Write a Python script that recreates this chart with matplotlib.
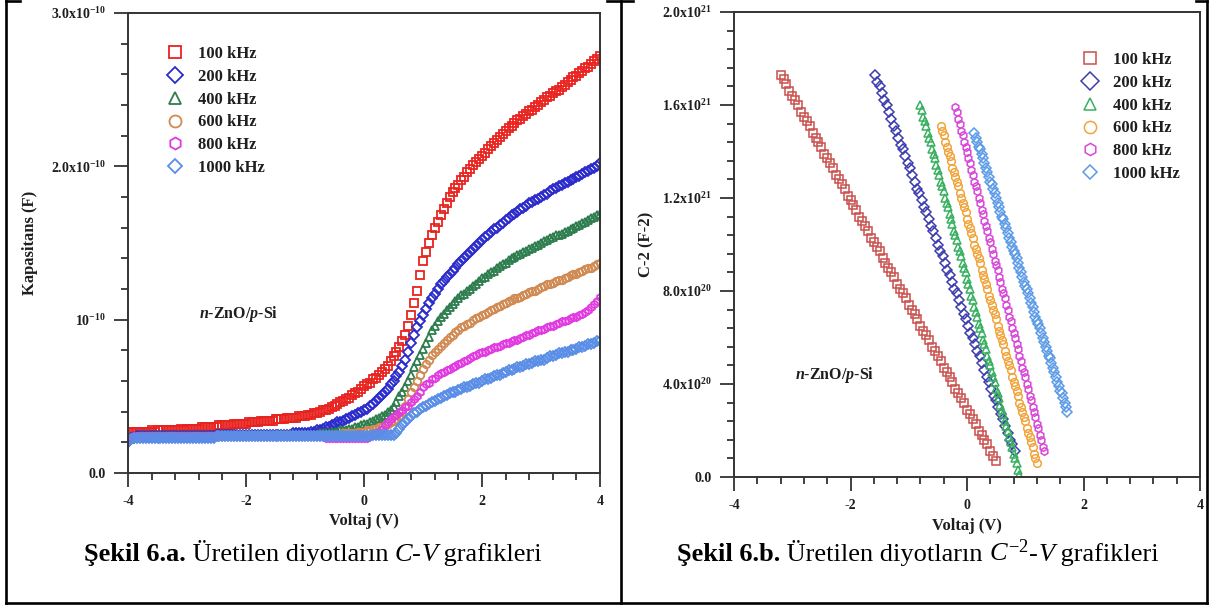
import numpy as np
import matplotlib
matplotlib.use('Agg')
import matplotlib.pyplot as plt
from matplotlib.ticker import MultipleLocator
from matplotlib.lines import Line2D
from matplotlib.offsetbox import TextArea, HPacker, AnnotationBbox

plt.rcParams['font.family'] = 'Liberation Serif'
plt.rcParams['mathtext.fontset'] = 'custom'
plt.rcParams['mathtext.rm'] = 'Liberation Serif'
plt.rcParams['mathtext.it'] = 'Liberation Serif:italic'
plt.rcParams['mathtext.bf'] = 'Liberation Serif:bold'
plt.rcParams['mathtext.bfit'] = 'Liberation Serif:italic:bold'

# ---- C-V data (capacitance in 1e-10 F), voltage sweep -4..4 V, 0.05 V steps
V_SWEEP = np.round(np.arange(-4, 4.0001, 0.05), 2)

C_100 = [0.27, 0.27, 0.27, 0.27, 0.27, 0.27, 0.27, 0.27, 0.28, 0.27, 0.28, 0.28, 0.28, 0.28, 0.28, 0.28, 0.28, 0.28, 0.29, 0.28,
         0.29, 0.29, 0.29, 0.29, 0.29, 0.30, 0.30, 0.30, 0.30, 0.30, 0.30, 0.31, 0.31, 0.31, 0.31, 0.31, 0.32, 0.32, 0.32, 0.32,
         0.32, 0.33, 0.33, 0.33, 0.33, 0.34, 0.34, 0.34, 0.34, 0.34, 0.35, 0.35, 0.35, 0.35, 0.36, 0.36, 0.36, 0.36, 0.37, 0.37,
         0.37, 0.38, 0.38, 0.39, 0.39, 0.40, 0.41, 0.41, 0.42, 0.43, 0.44, 0.45, 0.46, 0.47, 0.48, 0.49, 0.51, 0.52, 0.53, 0.55,
         0.57, 0.58, 0.59, 0.61, 0.62, 0.64, 0.66, 0.68, 0.70, 0.73, 0.76, 0.79, 0.82, 0.86, 0.90, 0.96, 1.03, 1.11, 1.19, 1.29,
         1.38, 1.44, 1.50, 1.55, 1.60, 1.64, 1.68, 1.72, 1.76, 1.80, 1.83, 1.86, 1.88, 1.91, 1.93, 1.96, 1.98, 2.01, 2.03, 2.05,
         2.07, 2.09, 2.11, 2.13, 2.15, 2.17, 2.19, 2.21, 2.23, 2.25, 2.26, 2.28, 2.30, 2.31, 2.33, 2.34, 2.36, 2.37, 2.39, 2.40,
         2.42, 2.43, 2.45, 2.46, 2.48, 2.49, 2.50, 2.52, 2.53, 2.55, 2.56, 2.58, 2.59, 2.61, 2.62, 2.64, 2.65, 2.67, 2.69, 2.70, 2.72]

C_200 = [0.20, 0.23, 0.23, 0.24, 0.24, 0.24, 0.24, 0.24, 0.24, 0.24, 0.24, 0.24, 0.24, 0.24, 0.24, 0.24, 0.24, 0.24, 0.24, 0.24,
         0.24, 0.24, 0.24, 0.24, 0.24, 0.24, 0.24, 0.24, 0.24, 0.24, 0.25, 0.25, 0.25, 0.25, 0.25, 0.25, 0.25, 0.25, 0.25, 0.25,
         0.25, 0.25, 0.25, 0.25, 0.25, 0.25, 0.25, 0.25, 0.25, 0.25, 0.25, 0.25, 0.25, 0.25, 0.25, 0.25, 0.26, 0.26, 0.26, 0.26,
         0.26, 0.26, 0.27, 0.27, 0.28, 0.28, 0.29, 0.30, 0.30, 0.31, 0.32, 0.33, 0.33, 0.34, 0.35, 0.36, 0.37, 0.38, 0.39, 0.40,
         0.41, 0.42, 0.44, 0.45, 0.47, 0.49, 0.51, 0.53, 0.55, 0.58, 0.60, 0.63, 0.66, 0.70, 0.74, 0.79, 0.85, 0.90, 0.95, 0.99,
         1.03, 1.07, 1.11, 1.14, 1.17, 1.20, 1.23, 1.25, 1.28, 1.30, 1.32, 1.34, 1.36, 1.38, 1.40, 1.42, 1.44, 1.46, 1.48, 1.50,
         1.52, 1.54, 1.55, 1.57, 1.59, 1.60, 1.62, 1.63, 1.65, 1.66, 1.68, 1.69, 1.70, 1.72, 1.73, 1.74, 1.76, 1.77, 1.78, 1.79,
         1.80, 1.81, 1.82, 1.84, 1.85, 1.86, 1.87, 1.88, 1.89, 1.90, 1.91, 1.92, 1.93, 1.94, 1.95, 1.96, 1.97, 1.98, 1.99, 2.00, 2.02]

C_400 = [0.22, 0.23, 0.23, 0.23, 0.24, 0.24, 0.24, 0.24, 0.24, 0.24, 0.24, 0.24, 0.24, 0.24, 0.24, 0.24, 0.24, 0.24, 0.24, 0.24,
         0.24, 0.24, 0.24, 0.24, 0.24, 0.24, 0.24, 0.24, 0.24, 0.24, 0.24, 0.24, 0.25, 0.24, 0.24, 0.25, 0.25, 0.25, 0.25, 0.25,
         0.25, 0.25, 0.25, 0.25, 0.25, 0.25, 0.25, 0.25, 0.25, 0.25, 0.25, 0.25, 0.25, 0.25, 0.25, 0.25, 0.25, 0.25, 0.25, 0.25,
         0.25, 0.25, 0.25, 0.25, 0.25, 0.26, 0.26, 0.26, 0.26, 0.27, 0.27, 0.27, 0.28, 0.28, 0.28, 0.29, 0.29, 0.30, 0.30, 0.31,
         0.32, 0.32, 0.33, 0.34, 0.35, 0.36, 0.37, 0.38, 0.40, 0.41, 0.43, 0.46, 0.50, 0.53, 0.56, 0.60, 0.64, 0.69, 0.73, 0.77,
         0.81, 0.85, 0.89, 0.93, 0.96, 0.99, 1.02, 1.04, 1.06, 1.08, 1.10, 1.12, 1.14, 1.16, 1.17, 1.19, 1.20, 1.22, 1.23, 1.25,
         1.27, 1.28, 1.30, 1.31, 1.32, 1.34, 1.35, 1.36, 1.37, 1.39, 1.40, 1.41, 1.42, 1.43, 1.44, 1.45, 1.46, 1.47, 1.48, 1.49,
         1.50, 1.51, 1.52, 1.53, 1.54, 1.55, 1.55, 1.56, 1.57, 1.58, 1.59, 1.60, 1.61, 1.62, 1.63, 1.64, 1.65, 1.66, 1.67, 1.68, 1.69]

C_600 = [0.22, 0.23, 0.23, 0.23, 0.24, 0.24, 0.24, 0.24, 0.24, 0.24, 0.24, 0.24, 0.24, 0.24, 0.24, 0.24, 0.24, 0.24, 0.24, 0.24,
         0.24, 0.24, 0.24, 0.24, 0.24, 0.24, 0.24, 0.24, 0.24, 0.24, 0.24, 0.24, 0.24, 0.24, 0.24, 0.24, 0.24, 0.24, 0.24, 0.24,
         0.24, 0.24, 0.24, 0.24, 0.24, 0.24, 0.24, 0.24, 0.24, 0.24, 0.25, 0.25, 0.25, 0.25, 0.25, 0.25, 0.25, 0.25, 0.25, 0.25,
         0.25, 0.25, 0.25, 0.25, 0.25, 0.25, 0.25, 0.25, 0.25, 0.25, 0.25, 0.25, 0.25, 0.26, 0.26, 0.26, 0.26, 0.26, 0.27, 0.27,
         0.27, 0.28, 0.28, 0.29, 0.29, 0.30, 0.30, 0.31, 0.32, 0.33, 0.34, 0.35, 0.37, 0.40, 0.44, 0.48, 0.53, 0.56, 0.60, 0.64,
         0.68, 0.71, 0.74, 0.77, 0.79, 0.81, 0.83, 0.85, 0.87, 0.89, 0.90, 0.92, 0.93, 0.95, 0.96, 0.97, 0.98, 1.00, 1.01, 1.02,
         1.03, 1.04, 1.05, 1.06, 1.07, 1.08, 1.09, 1.10, 1.11, 1.12, 1.13, 1.14, 1.14, 1.15, 1.16, 1.17, 1.18, 1.19, 1.19, 1.20,
         1.21, 1.22, 1.23, 1.23, 1.24, 1.25, 1.26, 1.26, 1.27, 1.28, 1.29, 1.30, 1.30, 1.31, 1.32, 1.33, 1.34, 1.34, 1.35, 1.36, 1.37]

C_800 = [0.22, 0.23, 0.24, 0.24, 0.24, 0.24, 0.24, 0.24, 0.24, 0.24, 0.24, 0.24, 0.24, 0.24, 0.24, 0.24, 0.24, 0.24, 0.24, 0.24,
         0.24, 0.24, 0.24, 0.24, 0.24, 0.24, 0.24, 0.24, 0.24, 0.24, 0.24, 0.24, 0.24, 0.24, 0.24, 0.24, 0.24, 0.24, 0.24, 0.24,
         0.24, 0.24, 0.24, 0.24, 0.24, 0.24, 0.24, 0.24, 0.24, 0.24, 0.24, 0.24, 0.24, 0.24, 0.24, 0.24, 0.24, 0.24, 0.24, 0.24,
         0.24, 0.24, 0.24, 0.24, 0.24, 0.24, 0.24, 0.23, 0.23, 0.23, 0.23, 0.23, 0.23, 0.23, 0.23, 0.23, 0.23, 0.23, 0.23, 0.23,
         0.23, 0.23, 0.24, 0.25, 0.26, 0.27, 0.29, 0.31, 0.33, 0.35, 0.37, 0.38, 0.40, 0.41, 0.43, 0.44, 0.46, 0.48, 0.50, 0.53,
         0.56, 0.58, 0.59, 0.61, 0.62, 0.64, 0.65, 0.66, 0.67, 0.68, 0.69, 0.70, 0.71, 0.72, 0.73, 0.74, 0.75, 0.76, 0.77, 0.78,
         0.79, 0.79, 0.80, 0.81, 0.82, 0.82, 0.83, 0.84, 0.85, 0.85, 0.86, 0.87, 0.87, 0.88, 0.89, 0.90, 0.90, 0.91, 0.92, 0.93,
         0.93, 0.94, 0.95, 0.96, 0.96, 0.97, 0.98, 0.99, 0.99, 1.00, 1.01, 1.02, 1.02, 1.03, 1.04, 1.05, 1.06, 1.08, 1.10, 1.12, 1.15]

C_1000 = [0.20, 0.22, 0.23, 0.23, 0.23, 0.23, 0.23, 0.23, 0.23, 0.23, 0.23, 0.23, 0.23, 0.23, 0.23, 0.23, 0.23, 0.23, 0.23, 0.23,
          0.23, 0.23, 0.23, 0.23, 0.23, 0.23, 0.23, 0.23, 0.23, 0.23, 0.24, 0.24, 0.24, 0.24, 0.24, 0.24, 0.24, 0.24, 0.24, 0.24,
          0.24, 0.24, 0.24, 0.24, 0.24, 0.24, 0.24, 0.24, 0.24, 0.24, 0.24, 0.24, 0.24, 0.24, 0.24, 0.24, 0.24, 0.24, 0.24, 0.24,
          0.24, 0.24, 0.24, 0.24, 0.24, 0.24, 0.24, 0.24, 0.24, 0.24, 0.24, 0.24, 0.24, 0.24, 0.24, 0.24, 0.24, 0.24, 0.24, 0.24,
          0.24, 0.24, 0.24, 0.25, 0.25, 0.25, 0.25, 0.25, 0.25, 0.25, 0.25, 0.26, 0.29, 0.31, 0.33, 0.35, 0.37, 0.39, 0.40, 0.42,
          0.43, 0.44, 0.45, 0.46, 0.47, 0.48, 0.49, 0.50, 0.51, 0.52, 0.53, 0.53, 0.54, 0.55, 0.56, 0.56, 0.57, 0.58, 0.59, 0.59,
          0.60, 0.61, 0.61, 0.62, 0.63, 0.64, 0.64, 0.65, 0.66, 0.67, 0.67, 0.68, 0.69, 0.69, 0.70, 0.71, 0.71, 0.72, 0.73, 0.73,
          0.74, 0.74, 0.75, 0.76, 0.76, 0.77, 0.78, 0.78, 0.79, 0.79, 0.80, 0.80, 0.81, 0.82, 0.82, 0.83, 0.84, 0.84, 0.85, 0.86, 0.86]

# ---- C^-2 - V data (in 1e21 F^-2): start voltage, step, values
M2_100 = (-3.20, 0.05, [1.73, 1.71, 1.69, 1.66, 1.64, 1.62, 1.60, 1.57, 1.55, 1.53, 1.51, 1.48, 1.46, 1.44, 1.42, 1.39, 1.37, 1.35, 1.33, 1.30,
                        1.28, 1.26, 1.24, 1.21, 1.19, 1.17, 1.15, 1.12, 1.10, 1.08, 1.06, 1.03, 1.01, 0.99, 0.97, 0.94, 0.92, 0.90, 0.88, 0.86,
                        0.83, 0.81, 0.79, 0.77, 0.74, 0.72, 0.70, 0.68, 0.65, 0.63, 0.61, 0.59, 0.56, 0.54, 0.52, 0.50, 0.47, 0.45, 0.43, 0.41,
                        0.38, 0.36, 0.34, 0.32, 0.29, 0.27, 0.25, 0.23, 0.20, 0.18, 0.16, 0.14, 0.11, 0.09, 0.07])
M2_200 = (-1.58, 0.04, [1.73, 1.70, 1.68, 1.65, 1.62, 1.60, 1.57, 1.54, 1.51, 1.49, 1.46, 1.43, 1.41, 1.38, 1.35, 1.33, 1.30, 1.27, 1.24, 1.22,
                        1.19, 1.16, 1.14, 1.11, 1.08, 1.06, 1.03, 1.00, 0.97, 0.95, 0.92, 0.89, 0.87, 0.84, 0.81, 0.79, 0.76, 0.73, 0.70, 0.68,
                        0.65, 0.62, 0.60, 0.57, 0.54, 0.52, 0.49, 0.46, 0.43, 0.41, 0.38, 0.35, 0.33, 0.30, 0.27, 0.25, 0.22, 0.19, 0.16, 0.14, 0.11])
M2_400 = (-0.80, 0.025, [1.60, 1.58, 1.55, 1.53, 1.51, 1.48, 1.46, 1.44, 1.41, 1.39, 1.37, 1.34, 1.32, 1.30, 1.27, 1.25, 1.23, 1.20, 1.18, 1.16,
                         1.13, 1.11, 1.09, 1.06, 1.04, 1.02, 0.99, 0.97, 0.95, 0.92, 0.90, 0.88, 0.85, 0.83, 0.81, 0.78, 0.76, 0.73, 0.71, 0.69,
                         0.66, 0.64, 0.62, 0.59, 0.57, 0.55, 0.52, 0.50, 0.48, 0.45, 0.43, 0.41, 0.38, 0.36, 0.34, 0.31, 0.29, 0.27, 0.24, 0.22,
                         0.20, 0.17, 0.15, 0.13, 0.10, 0.08, 0.06, 0.03, 0.01])
M2_600 = (-0.45, 0.025, [1.51, 1.49, 1.47, 1.44, 1.42, 1.40, 1.38, 1.36, 1.33, 1.31, 1.29, 1.27, 1.25, 1.22, 1.20, 1.18, 1.16, 1.14, 1.11, 1.09,
                         1.07, 1.05, 1.03, 1.00, 0.98, 0.96, 0.94, 0.92, 0.89, 0.87, 0.85, 0.83, 0.81, 0.78, 0.76, 0.74, 0.72, 0.70, 0.68, 0.65,
                         0.63, 0.61, 0.59, 0.57, 0.54, 0.52, 0.50, 0.48, 0.46, 0.43, 0.41, 0.39, 0.37, 0.35, 0.32, 0.30, 0.28, 0.26, 0.24, 0.21,
                         0.19, 0.17, 0.15, 0.13, 0.10, 0.08, 0.06])
M2_800 = (-0.20, 0.025, [1.59, 1.57, 1.54, 1.52, 1.49, 1.47, 1.44, 1.42, 1.40, 1.37, 1.35, 1.32, 1.30, 1.27, 1.25, 1.23, 1.20, 1.18, 1.15, 1.13,
                         1.10, 1.08, 1.06, 1.03, 1.01, 0.98, 0.96, 0.93, 0.91, 0.89, 0.86, 0.84, 0.81, 0.79, 0.77, 0.74, 0.72, 0.69, 0.67, 0.64,
                         0.62, 0.60, 0.57, 0.55, 0.52, 0.50, 0.47, 0.45, 0.43, 0.40, 0.38, 0.35, 0.33, 0.30, 0.28, 0.26, 0.23, 0.21, 0.18, 0.16,
                         0.13, 0.11])
M2_1000 = (0.125, 0.025, [1.48, 1.46, 1.44, 1.42, 1.41, 1.39, 1.37, 1.35, 1.33, 1.31, 1.29, 1.27, 1.26, 1.24, 1.22, 1.20, 1.18, 1.16, 1.14, 1.12,
                          1.11, 1.09, 1.07, 1.05, 1.03, 1.01, 0.99, 0.97, 0.96, 0.94, 0.92, 0.90, 0.88, 0.86, 0.84, 0.82, 0.81, 0.79, 0.77, 0.75,
                          0.73, 0.71, 0.69, 0.67, 0.66, 0.64, 0.62, 0.60, 0.58, 0.56, 0.54, 0.52, 0.51, 0.49, 0.47, 0.45, 0.43, 0.41, 0.39, 0.37,
                          0.36, 0.34, 0.32, 0.30, 0.28])

LABELS = ['100 kHz', '200 kHz', '400 kHz', '600 kHz', '800 kHz', '1000 kHz']
MARKERS = ['s', 'D', '^', 'o', 'h', 'D']
COLORS_CV = ['#e8231f', '#2b2bcc', '#2e7d4f', '#d08a52', '#e03ae0', '#5a8ee6']
COLORS_M2 = ['#c9504c', '#3c3cae', '#38b060', '#f0a43a', '#d848d8', '#5b9ae6']
CV_SERIES = [C_100, C_200, C_400, C_600, C_800, C_1000]
M2_SERIES = [M2_100, M2_200, M2_400, M2_600, M2_800, M2_1000]

W, H = 1219, 608
fig = plt.figure(figsize=(W / 100, H / 100), dpi=100)

def px_rect(x0, y0, x1, y1):
    return [x0 / W, 1 - y1 / H, (x1 - x0) / W, (y1 - y0) / H]

TXT = '#1e1e1e'
tick_font = dict(family='Liberation Serif', weight='bold', size=10)

def style_axes(ax):
    for s in ax.spines.values():
        s.set_color('#333333')
        s.set_linewidth(1.4)
    ax.tick_params(which='both', direction='out', color='#333333', width=1.3,
                   top=False, right=False, labelcolor=TXT)
    ax.tick_params(which='major', length=10, pad=6)
    ax.tick_params(which='minor', length=5)
    ax.set_xlim(-4, 4)
    ax.xaxis.set_minor_locator(MultipleLocator(0.4))
    ax.set_xticks([-4, -2, 0, 2, 4], labels=['-4', '-2', '0', '2', '4'])
    for lab in ax.get_xticklabels() + ax.get_yticklabels():
        lab.set_fontproperties(tick_font)
    ax.set_xlabel('Voltaj (V)', fontsize=12, fontweight='bold', color=TXT)
    ax.xaxis.set_label_coords(0.5, -0.105)
    ax.xaxis.label.set_va('center')

def style_legend(leg):
    for t in leg.get_texts():
        t.set_fontweight('bold')
        t.set_color(TXT)

# ---- left panel: C-V
ax1 = fig.add_axes(px_rect(128, 13, 600, 473))
for vals, lab, mk, col in zip(CV_SERIES, LABELS, MARKERS, COLORS_CV):
    ms = 4.6 if lab == '1000 kHz' else 5.4
    ax1.plot(V_SWEEP, vals, linestyle='none', marker=mk, ms=ms, mfc='none',
             mec=col, mew=1.3, label=lab)
ax1.set_ylim(0, 3)
ax1.yaxis.set_minor_locator(MultipleLocator(0.2))
ax1.set_yticks([0, 1, 2, 3], labels=['0.0', r'$\mathbf{10^{-10}}$',
                                      r'$\mathbf{2.0x10^{-10}}$', r'$\mathbf{3.0x10^{-10}}$'])
style_axes(ax1)
ax1.set_ylabel('Kapasitans (F)', fontsize=12, fontweight='bold', color=TXT)
ax1.yaxis.set_label_coords(-0.19, 0.5)
ax1.text(0.15, 0.345, r'$\mathbfit{n}$-ZnO/$\mathbfit{p}$-Si', transform=ax1.transAxes,
         fontsize=11.5, fontweight='bold', color=TXT, va='center')
leg1 = ax1.legend(loc='upper left', bbox_to_anchor=(167 / W, 1 - 46 / H),
                  bbox_transform=fig.transFigure, frameon=False, fontsize=12,
                  markerscale=1.6, handlelength=1.0, handletextpad=0.85,
                  labelspacing=0.41, borderpad=0, borderaxespad=0)
style_legend(leg1)

# ---- right panel: C^-2 - V
ax2 = fig.add_axes(px_rect(734, 12, 1200, 477))
for (v0, dv, vals), lab, mk, col in zip(M2_SERIES, LABELS, MARKERS, COLORS_M2):
    v = v0 + dv * np.arange(len(vals))
    ms = 4.6 if lab == '1000 kHz' else 5.5
    ax2.plot(v, vals, linestyle='none', marker=mk, ms=ms, mfc='none',
             mec=col, mew=1.1, label=lab)
ax2.set_ylim(0, 2.0)
ax2.yaxis.set_minor_locator(MultipleLocator(0.08))
ax2.set_yticks([0, 0.4, 0.8, 1.2, 1.6, 2.0],
               labels=['0.0', r'$\mathbf{4.0x10^{20}}$', r'$\mathbf{8.0x10^{20}}$',
                       r'$\mathbf{1.2x10^{21}}$', r'$\mathbf{1.6x10^{21}}$', r'$\mathbf{2.0x10^{21}}$'])
style_axes(ax2)
ax2.set_ylabel('C-2 (F-2)', fontsize=12, fontweight='bold', color=TXT)
ax2.yaxis.set_label_coords(-0.17, 0.5)
ax2.text(0.13, 0.22, r'$\mathbfit{n}$-ZnO/$\mathbfit{p}$-Si', transform=ax2.transAxes,
         fontsize=11.5, fontweight='bold', color=TXT, va='center')
leg2 = ax2.legend(loc='upper left', bbox_to_anchor=(1082 / W, 1 - 52 / H),
                  bbox_transform=fig.transFigure, frameon=False, fontsize=12,
                  markerscale=1.6, handlelength=1.0, handletextpad=0.85,
                  labelspacing=0.41, borderpad=0, borderaxespad=0)
style_legend(leg2)

# ---- captions (mixed bold / regular / italic pieces)
def caption(xc, yc, parts):
    boxes = [TextArea(s, textprops=dict(fontsize=19, color='black', family='Liberation Serif', **kw))
             for s, kw in parts]
    pack = HPacker(children=boxes, align='baseline', pad=0, sep=0)
    fig.add_artist(AnnotationBbox(pack, (xc / W, 1 - yc / H), xycoords='figure fraction',
                                  frameon=False, box_alignment=(0.5, 0.5), pad=0))

caption(313, 553, [('Şekil 6.a.', dict(weight='bold')), (' Üretilen diyotların ', {}),
                   ('C', dict(style='italic')), ('-', {}), ('V', dict(style='italic')),
                   (' grafikleri', {})])
caption(918, 553, [('Şekil 6.b.', dict(weight='bold')), (' Üretilen diyotların ', {}),
                   (r'$\mathit{C}^{\mathrm{-2}}$', {}), ('-', {}), ('V', dict(style='italic')),
                   (' grafikleri', {})])

# ---- table borders
def border(x0, y0, x1, y1):
    fig.add_artist(Line2D([x0 / W, x1 / W], [1 - y0 / H, 1 - y1 / H],
                          color='black', lw=1.9, solid_capstyle='projecting'))

border(6, 1, 6, 603)
border(621, 1, 621, 603)
border(1207, 1, 1207, 603)
border(6, 603, 1207, 603)
border(6, 1, 20, 1)
border(607, 1, 633, 1)
border(1196, 1, 1207, 1)

fig.savefig('out.png', dpi=100)
